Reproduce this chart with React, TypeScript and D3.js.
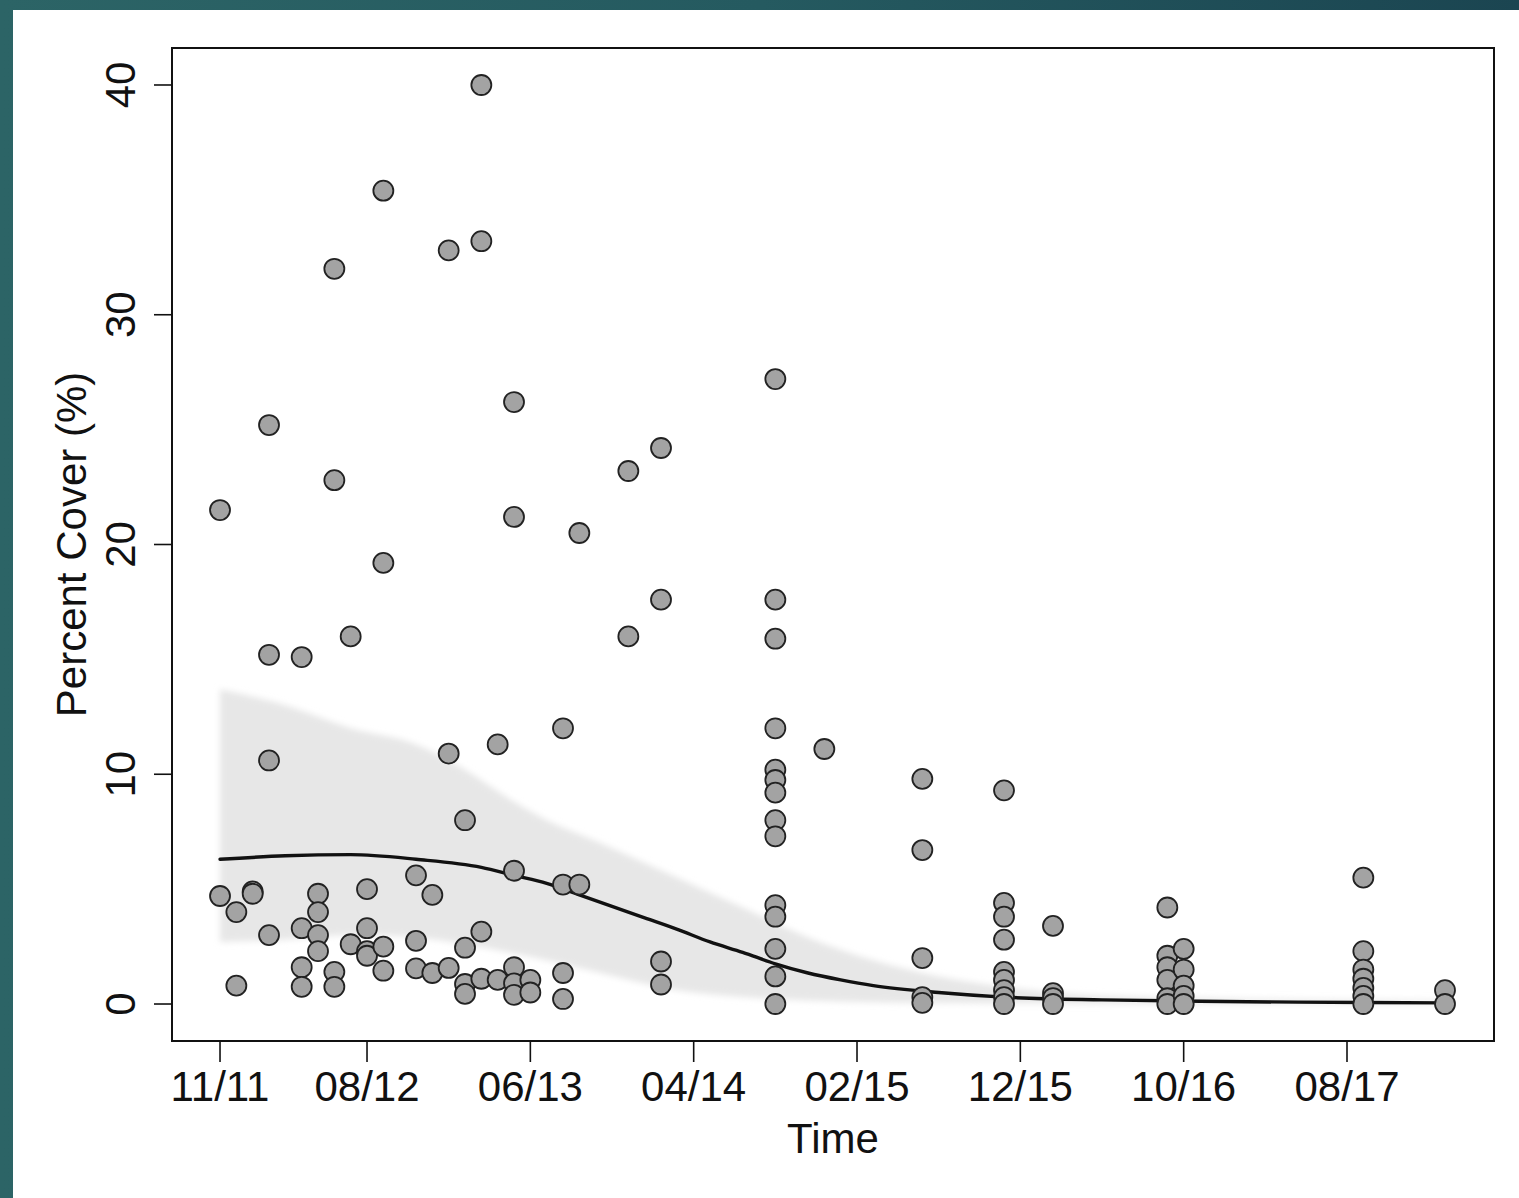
import React from "react";
import * as d3 from "d3";

// Survey months counted from November 2011 (month 0)
const tickMonths = [0, 9, 19, 29, 39, 49, 59, 69];
const tickLabels = ["11/11", "08/12", "06/13", "04/14", "02/15", "12/15", "10/16", "08/17"];
const yTicks = [0, 10, 20, 30, 40];

// Observed percent cover per survey month
const surveyMonths = [0, 1, 2, 3, 5, 6, 7, 8, 9, 10, 12, 13, 14, 15, 16, 17, 18, 19, 21, 22, 25, 27, 34, 37, 43, 48, 51, 58, 59, 70, 75];
const surveyCover: number[][] = [
  [21.5, 4.7],
  [4.0, 0.8],
  [4.9, 4.8],
  [25.2, 15.2, 10.6, 3.0],
  [15.1, 3.3, 1.6, 0.75],
  [4.8, 4.0, 3.0, 2.3],
  [32.0, 22.8, 1.4, 0.75],
  [16.0, 2.6],
  [5.0, 3.3, 2.3, 2.1],
  [35.4, 19.2, 2.5, 1.45],
  [5.6, 2.75, 1.55],
  [4.75, 1.35],
  [32.8, 10.9, 1.57],
  [8.0, 2.45, 0.87, 0.44],
  [40.0, 33.2, 3.15, 1.1],
  [11.3, 1.05],
  [26.2, 21.2, 5.8, 1.6, 0.9, 0.4],
  [1.05, 0.5],
  [12.0, 5.2, 1.35, 0.22],
  [20.5, 5.2],
  [23.2, 16.0],
  [24.2, 17.6, 1.85, 0.85],
  [27.2, 17.6, 15.9, 12.0, 10.2, 9.75, 9.2, 8.0, 7.3, 4.3, 3.8, 2.4, 1.2, 0.0],
  [11.1],
  [9.8, 6.7, 2.0, 0.3, 0.05],
  [9.3, 4.4, 3.8, 2.8, 1.4, 1.05, 0.6, 0.3, 0.0],
  [3.4, 0.47, 0.26, 0.0],
  [4.2, 2.1, 1.6, 1.05, 0.25, 0.0],
  [2.4, 1.5, 0.8, 0.35, 0.0],
  [5.5, 2.3, 1.5, 1.1, 0.7, 0.35, 0.0],
  [0.6, 0.0],
];

// Fitted trend
const fitMonths = [0, 4, 8, 12, 16, 18, 20, 22, 24, 26, 28, 30, 32, 34, 36, 38, 40, 44, 48, 54, 60, 66, 75];
const fitCover = [6.3, 6.45, 6.5, 6.3, 5.95, 5.6, 5.25, 4.75, 4.25, 3.75, 3.25, 2.7, 2.25, 1.75, 1.35, 1.05, 0.8, 0.5, 0.3, 0.18, 0.12, 0.08, 0.05];

// Confidence band around the trend
const bandMonths = [0, 4, 8, 12, 15, 18, 20, 23, 28, 32, 36, 40, 44, 48, 52, 60, 75];
const bandUpper = [13.7, 13.0, 12.0, 11.3, 10.2, 8.8, 8.0, 7.1, 5.5, 4.2, 2.9, 1.9, 1.2, 0.75, 0.45, 0.25, 0.15];
const bandLower = [2.7, 2.8, 3.0, 2.9, 2.6, 2.2, 1.9, 1.4, 0.6, 0.3, 0.15, 0.08, 0.05, 0.03, 0.02, 0.0, 0.0];

const W = 1519;
const H = 1198;
const plot = { left: 172, top: 48, right: 1494, bottom: 1041 };
const FONT = "'Liberation Sans', Arial, Helvetica, sans-serif";
const FS = 42;

export default function App() {
  const x = d3.scaleLinear().domain([-2.94, 78.0]).range([plot.left, plot.right]);
  const y = d3.scaleLinear().domain([-1.61, 41.61]).range([plot.bottom, plot.top]);

  const points = surveyMonths.flatMap((m, i) => surveyCover[i].map((v) => ({ m, v })));

  const band = d3
    .area<number>()
    .x((_, i) => x(bandMonths[i]))
    .y0((_, i) => y(bandLower[i]))
    .y1((d) => y(d))
    .curve(d3.curveMonotoneX)(bandUpper) as string;

  const trend = d3
    .line<number>()
    .x((_, i) => x(fitMonths[i]))
    .y((d) => y(d))
    .curve(d3.curveMonotoneX)(fitCover) as string;

  const tickLen = 18;

  return (
    <div style={{ position: "absolute", left: 0, top: 0 }}>
      <svg width={W} height={H} style={{ display: "block" }} fontFamily={FONT}>
        <defs>
          <linearGradient id="frame" x1="0" y1="0" x2="1" y2="0">
            <stop offset="0" stopColor="#2c6466" />
            <stop offset="0.5" stopColor="#255a60" />
            <stop offset="1" stopColor="#1b4551" />
          </linearGradient>
          <filter id="soft" x="-5%" y="-5%" width="110%" height="110%">
            <feGaussianBlur stdDeviation="3" />
          </filter>
        </defs>
        <rect x={0} y={0} width={W} height={H} fill="url(#frame)" />
        <rect x={13} y={10} width={W - 13} height={H - 10} fill="#ffffff" />

        {/* confidence band */}
        <path d={band} fill="#e7e7e7" filter="url(#soft)" />

        {/* fitted trend */}
        <path d={trend} fill="none" stroke="#111" strokeWidth={3.4} strokeLinecap="round" />

        {/* observations */}
        {points.map((p, i) => (
          <circle key={i} cx={x(p.m)} cy={y(p.v)} r={10} fill="#a3a3a3" stroke="#222" strokeWidth={1.8} />
        ))}

        {/* plot frame */}
        <rect
          x={plot.left}
          y={plot.top}
          width={plot.right - plot.left}
          height={plot.bottom - plot.top}
          fill="none"
          stroke="#111"
          strokeWidth={2}
        />

        {/* x axis */}
        {tickMonths.map((m, i) => (
          <g key={m}>
            <line x1={x(m)} x2={x(m)} y1={plot.bottom} y2={plot.bottom + tickLen + 3} stroke="#111" strokeWidth={1.6} />
            <text x={x(m)} y={1101} fontSize={FS} textAnchor="middle" fill="#111">
              {tickLabels[i]}
            </text>
          </g>
        ))}
        <text x={(plot.left + plot.right) / 2} y={1153} fontSize={FS} textAnchor="middle" fill="#111">
          Time
        </text>

        {/* y axis */}
        {yTicks.map((t) => (
          <g key={t}>
            <line x1={plot.left - tickLen} x2={plot.left} y1={y(t)} y2={y(t)} stroke="#111" strokeWidth={1.6} />
            <text
              transform={`translate(135, ${y(t)}) rotate(-90)`}
              fontSize={FS}
              textAnchor="middle"
              fill="#111"
            >
              {t}
            </text>
          </g>
        ))}
        <text
          transform={`translate(86, ${(plot.top + plot.bottom) / 2}) rotate(-90)`}
          fontSize={FS}
          textAnchor="middle"
          fill="#111"
        >
          Percent Cover (%)
        </text>
      </svg>
    </div>
  );
}
